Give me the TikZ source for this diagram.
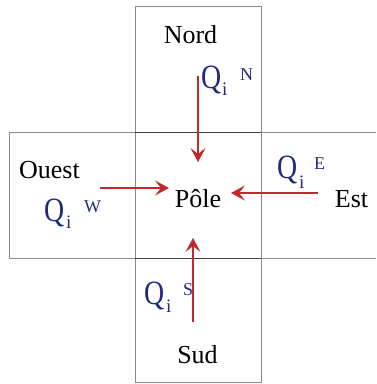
\documentclass[tikz,border=0pt]{standalone}
\usepackage{fontspec}
\setmainfont{Liberation Serif}
\usetikzlibrary{arrows.meta}
\definecolor{qblue}{HTML}{1F2A7A}
\definecolor{ared}{HTML}{C0282D}
\definecolor{boxgray}{HTML}{8A8A8A}
\tikzset{
  cell/.style={draw=boxgray, line width=0.8pt},
  divider/.style={draw=black!75, line width=0.9pt},
  lbl/.style={anchor=base, inner sep=0pt, font=\fontsize{26}{26}\selectfont},
  qbig/.style={anchor=base west, inner sep=0pt, text=qblue, font=\fontsize{34}{34}\selectfont},
  qsub/.style={anchor=base west, inner sep=0pt, text=qblue, font=\fontsize{19}{19}\selectfont},
  qsup/.style={anchor=base west, inner sep=0pt, text=qblue, font=\fontsize{18}{18}\selectfont},
  flux/.style={draw=ared, line width=1.1pt, -{Stealth[length=14pt,width=15pt,inset=6pt]}}
}
\newcommand{\qletter}{\scalebox{0.82}[1]{Q}}
\begin{document}
\begin{tikzpicture}[x=1pt,y=-1pt]
\useasboundingbox (0,0) rectangle (376,384);
% cells
\draw[cell] (135,6) rectangle (261,132);
\draw[cell] (9,132) rectangle (135,258);
\draw[cell] (261,132) -- (376,132);
\draw[cell] (261,258) -- (376,258);
\draw[cell] (135,258) rectangle (261,382);
\draw[cell] (135,132) rectangle (261,258);
\draw[divider] (135,132) -- (261,132);
\draw[divider] (135,258) -- (261,258);
% labels
\node[lbl] (nord) at (190.5,43) {Nord};
\node[lbl] (ouest) at (49.5,178) {Ouest};
\node[lbl] (pole) at (198,207) {Pôle};
\node[lbl] (est) at (351.5,207) {Est};
\node[lbl] (sud) at (197.5,363) {Sud};
% Q north
\node[qbig] (qn) at (201,88) {\qletter};
\node[qsub] (qni) at (222,95) {i};
\node[qsup] (qns) at (240,80) {N};
% Q west
\node[qbig] (qw) at (44,221) {\qletter};
\node[qsub] (qwi) at (66,228) {i};
\node[qsup] (qws) at (84,212) {W};
% Q east
\node[qbig] (qe) at (277,178) {\qletter};
\node[qsub] (qei) at (299,188) {i};
\node[qsup] (qes) at (314,169) {E};
% Q south
\node[qbig] (qs) at (144,304) {\qletter};
\node[qsub] (qsi) at (166,312) {i};
\node[qsup] (qss) at (183,295) {S};
% arrows
\coordinate (nstart) at (198,76);
\coordinate (nend) at (198,162);
\coordinate (wstart) at (100,188);
\coordinate (wend) at (169,188);
\coordinate (estart) at (318,193);
\coordinate (eend) at (231,193);
\coordinate (sstart) at (193,322);
\coordinate (send) at (193,238);
\draw[flux] (nstart) -- (nend);
\draw[flux] (wstart) -- (wend);
\draw[flux] (estart) -- (eend);
\draw[flux] (sstart) -- (send);
\end{tikzpicture}
\end{document}
